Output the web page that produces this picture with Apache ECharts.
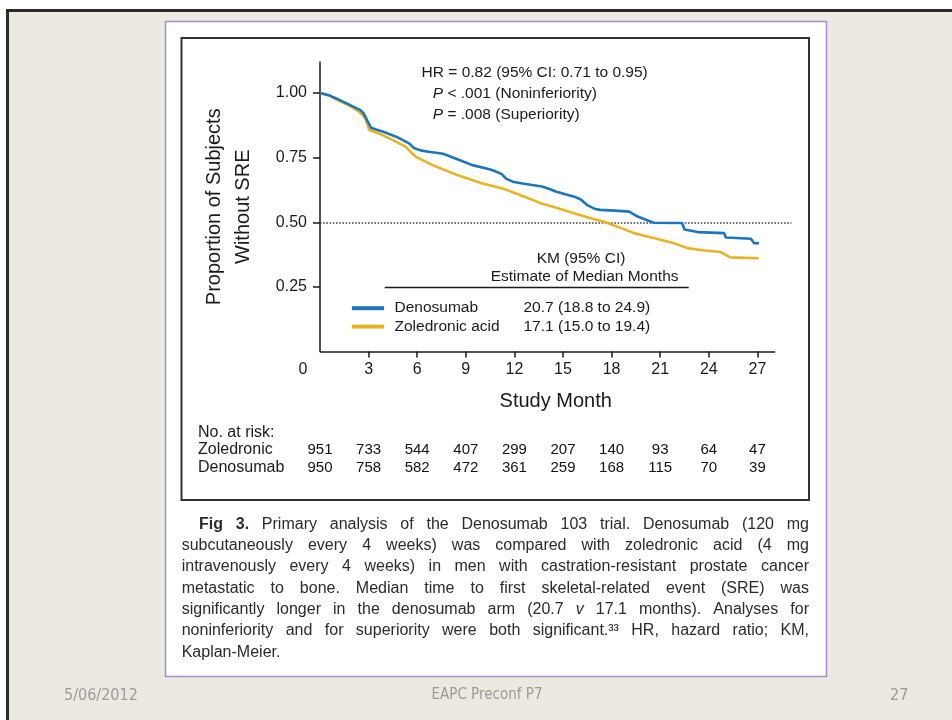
<!DOCTYPE html>
<html><head><meta charset="utf-8">
<script src="https://cdn.jsdelivr.net/npm/echarts@6/dist/echarts.min.js"></script>
<style>html,body{margin:0;padding:0;background:#fff;}#c{width:952px;height:720px;}</style>
</head><body><div id="c"></div>
<script>
// ---------- data ----------
const monthTicks = [0, 3, 6, 9, 12, 15, 18, 21, 24, 27];
const yTicks = [0.25, 0.5, 0.75, 1.0];

const denosumabMonths = [0, 0.6, 1.0, 1.8, 2.5, 2.7, 2.9, 3.15, 3.5, 3.9, 4.7, 5.5, 5.8, 6.2, 6.8, 7.6, 8.6, 9.4, 10.4, 10.7, 11.2, 11.5, 11.9, 12.5, 13.7, 14.2, 14.6, 15.2, 15.7, 16.1, 16.5, 17.0, 17.3, 18.2, 19.1, 19.3, 19.6, 20.2, 20.6, 22.35, 22.5, 23.3, 24.95, 25.05, 26.6, 26.8, 27.1];
const denosumabSurvival = [1.00, 0.99, 0.979, 0.955, 0.934, 0.92, 0.895, 0.866, 0.858, 0.850, 0.831, 0.805, 0.787, 0.778, 0.772, 0.765, 0.741, 0.721, 0.706, 0.700, 0.687, 0.668, 0.657, 0.650, 0.638, 0.628, 0.618, 0.607, 0.599, 0.588, 0.566, 0.551, 0.548, 0.545, 0.541, 0.533, 0.522, 0.508, 0.498, 0.497, 0.472, 0.462, 0.458, 0.441, 0.436, 0.419, 0.419];

const zoledronicMonths = [0, 0.6, 1.0, 1.8, 2.42, 2.7, 2.84, 3.04, 3.5, 3.86, 4.5, 5.3, 5.6, 5.92, 6.95, 8.38, 10.03, 11.26, 12.1, 12.9, 13.62, 14.55, 15.68, 16.6, 17.53, 18.4, 19.38, 20.2, 21.02, 21.9, 22.67, 23.6, 24.72, 25.34, 27.08];
const zoledronicSurvival = [1.00, 0.99, 0.975, 0.952, 0.927, 0.91, 0.895, 0.857, 0.846, 0.837, 0.818, 0.792, 0.772, 0.753, 0.721, 0.685, 0.650, 0.631, 0.611, 0.592, 0.574, 0.557, 0.535, 0.517, 0.502, 0.482, 0.458, 0.445, 0.432, 0.418, 0.400, 0.392, 0.385, 0.364, 0.361];

const referenceLevel = 0.5;
const riskRows = ['Zoledronic', 'Denosumab'];
const zoledronicAtRisk = [951, 733, 544, 407, 299, 207, 140, 93, 64, 47];
const denosumabAtRisk = [950, 758, 582, 472, 361, 259, 168, 115, 70, 39];

const legendNames = ['Denosumab', 'Zoledronic acid'];
const medianTexts = ['20.7 (18.8 to 24.9)', '17.1 (15.0 to 19.4)'];
const kmHeader = ['KM (95% CI)', 'Estimate of Median Months'];
const statLines = ['HR = 0.82 (95% CI: 0.71 to 0.95)', '{i|P} < .001 (Noninferiority)', '{i|P} = .008 (Superiority)'];
const captionLines = [
  '*Fig* *3.* Primary analysis of the Denosumab 103 trial. Denosumab (120 mg',
  'subcutaneously every 4 weeks) was compared with zoledronic acid (4 mg',
  'intravenously every 4 weeks) in men with castration-resistant prostate cancer',
  'metastatic to bone. Median time to first skeletal-related event (SRE) was',
  'significantly longer in the denosumab arm (20.7 _v_ 17.1 months). Analyses for',
  'noninferiority and for superiority were both significant.\u00b3\u00b3 HR, hazard ratio; KM,',
  'Kaplan-Meier.'
];
const footerTexts = ['5/06/2012', 'EAPC Preconf P7', '27'];

// ---------- build ----------
const FAM = '"Liberation Sans", Arial, Helvetica, sans-serif';
const NARROW = '"Liberation Sans Narrow", "DejaVu Sans Condensed", sans-serif';
const INK = '#1a1a1a';
const X_MAX = 29.1, X_AXIS_END = 28.1;

const zip = (a, b) => a.map((v, i) => [v, b[i]]);

function txt(x, y, text, o) {
  o = o || {};
  return {
    type: 'text', x: x, y: y, z: 10, silent: true,
    style: Object.assign({
      text: text, fontSize: 16, fontFamily: FAM, fill: INK,
      align: 'left', verticalAlign: 'middle', textAlign: 'left', textVerticalAlign: 'middle'
    }, o)
  };
}

function captionElements() {
  const els = [];
  const ctx = document.createElement('canvas').getContext('2d');
  const fs = 16, lineH = 21.35, top = 524.3, right = 809;
  ctx.font = fs + 'px ' + FAM;
  const spaceW = ctx.measureText(' ').width;
  captionLines.forEach((line, i) => {
    const toks = line.split(' ').map(t => {
      let w = 'normal', s = 'normal', s2 = t;
      if (/^\*.+\*$/.test(t)) { w = 'bold'; s2 = t.slice(1, -1); }
      else if (/^_.+_$/.test(t)) { s = 'italic'; s2 = t.slice(1, -1); }
      ctx.font = s + ' ' + w + ' ' + fs + 'px ' + FAM;
      return { t: s2, w: w, s: s, width: ctx.measureText(s2).width };
    });
    const x0 = i === 0 ? 199 : 181.7;
    const total = toks.reduce((a, k) => a + k.width, 0);
    const last = i === captionLines.length - 1;
    const gap = last ? spaceW : (right - x0 - total) / (toks.length - 1);
    let x = x0;
    toks.forEach(k => {
      els.push(txt(x, top + i * lineH, k.t, { fontSize: fs, fontWeight: k.w, fontStyle: k.s, fill: '#2b2b2b' }));
      x += k.width + gap;
    });
  });
  return els;
}

const riskData = [];
monthTicks.forEach((m, i) => {
  riskData.push([m, riskRows[0], zoledronicAtRisk[i]]);
  riskData.push([m, riskRows[1], denosumabAtRisk[i]]);
});

const graphics = [
  { type: 'rect', z: -10, silent: true, shape: { x: 7.5, y: 10.5, width: 1000, height: 800 }, style: { fill: '#ECE9E0', stroke: '#2b2b2b', lineWidth: 3 } },
  { type: 'rect', z: -9, silent: true, shape: { x: 165.5, y: 21.5, width: 661, height: 655 }, style: { fill: '#ffffff', stroke: '#A88BC8', lineWidth: 1.5 } },
  { type: 'rect', z: -8, silent: true, shape: { x: 181.5, y: 38, width: 627.5, height: 462 }, style: { fill: 'none', stroke: '#333', lineWidth: 2 } },
  txt(421.6, 72.3, statLines[0], { fontSize: 15.5 }),
  txt(432.8, 93.3, statLines[1], { fontSize: 15.5, rich: { i: { fontStyle: 'italic', fontSize: 15.5, fontFamily: FAM, fill: INK } } }),
  txt(432.8, 114.7, statLines[2], { fontSize: 15.5, rich: { i: { fontStyle: 'italic', fontSize: 15.5, fontFamily: FAM, fill: INK } } }),
  txt(581, 258.3, kmHeader[0], { fontSize: 15.5, align: 'center', textAlign: 'center' }),
  txt(584.6, 276.7, kmHeader[1], { fontSize: 15.5, align: 'center', textAlign: 'center' }),
  { type: 'line', z: 10, silent: true, shape: { x1: 384.7, y1: 287.5, x2: 688.7, y2: 287.5 }, style: { stroke: INK, lineWidth: 1.5 } },
  txt(198, 433, 'No. at risk:', { fontSize: 16 }),
  txt(64, 695.5, footerTexts[0], { fontSize: 16, fontFamily: NARROW, fill: '#9a9a9a' }),
  txt(487, 695.5, footerTexts[1], { fontSize: 15, fontFamily: NARROW, fill: '#9a9a9a', align: 'center', textAlign: 'center' }),
  txt(908.3, 695.5, footerTexts[2], { fontSize: 16, fontFamily: NARROW, fill: '#9a9a9a', align: 'right', textAlign: 'right' })
].concat(captionElements());

const chart = echarts.init(document.getElementById('c'), null, { renderer: 'canvas' });
chart.setOption({
  animation: false,
  backgroundColor: 'transparent',
  textStyle: { fontFamily: FAM },
  graphic: { elements: graphics },
  legend: {
    data: legendNames, orient: 'vertical', left: 347, top: 294, icon: 'rect',
    itemWidth: 32, itemHeight: 4, itemGap: 0, selectedMode: false,
    formatter: name => '{n|' + name + '}{v|' + medianTexts[legendNames.indexOf(name)] + '}',
    textStyle: {
      color: INK, fontSize: 15.5, lineHeight: 18.4,
      rich: {
        n: { width: 129, padding: [0, 0, 0, 5.5], fontSize: 15.5, color: INK, fontFamily: FAM },
        v: { fontSize: 15.5, color: INK, fontFamily: FAM }
      }
    }
  },
  grid: [
    { left: 320, right: 952 - 320 - X_MAX * 16.2, top: 62, height: 289.5 },
    { left: 320, right: 952 - 320 - X_MAX * 16.2, top: 441, height: 36 }
  ],
  xAxis: [
    {
      type: 'value', gridIndex: 0, min: 0, max: X_MAX,
      axisLine: { show: false },
      axisTick: { show: true, customValues: monthTicks.slice(1), length: 6, lineStyle: { color: INK, width: 1.5 } },
      axisLabel: {
        customValues: monthTicks, margin: 10, fontSize: 16, color: INK,
        formatter: v => (v === 0 ? '{z|0}' : String(v)),
        rich: { z: { padding: [0, 34, 0, 0], fontSize: 16, color: INK } }
      },
      splitLine: { show: false },
      name: 'Study Month', nameLocation: 'middle', nameGap: 40,
      nameTextStyle: { fontSize: 20, color: INK }
    },
    { type: 'value', gridIndex: 1, min: 0, max: X_MAX, show: false }
  ],
  yAxis: [
    {
      type: 'value', gridIndex: 0, min: 0, max: 1.12,
      axisLine: { show: true, lineStyle: { color: INK, width: 1.5 } },
      axisTick: { show: true, customValues: yTicks, length: 7, lineStyle: { color: INK, width: 1.5 } },
      axisLabel: { customValues: yTicks, margin: 13, fontSize: 16, color: INK, formatter: v => v.toFixed(2) },
      splitLine: { show: false },
      name: 'Proportion of Subjects\nWithout SRE', nameLocation: 'middle', nameRotate: 90, nameGap: 62,
      nameTextStyle: { fontSize: 20, lineHeight: 29, color: INK }
    },
    {
      type: 'category', gridIndex: 1, data: riskRows, inverse: true,
      axisLine: { show: false }, axisTick: { show: false },
      axisLabel: { interval: 0, hideOverlap: false, align: 'left', margin: 122, fontSize: 16, color: INK }
    }
  ],
  series: [
    {
      name: 'Zoledronic acid', type: 'line', xAxisIndex: 0, yAxisIndex: 0,
      data: zip(zoledronicMonths, zoledronicSurvival), showSymbol: false, z: 2,
      color: '#E8B425', lineStyle: { width: 2.6, color: '#E8B425' },
      markLine: {
        silent: true, symbol: ['none', 'none'], label: { show: false }, z: 1,
        data: [
          [{ coord: [0, referenceLevel], lineStyle: { type: 'dotted', color: '#444', width: 1.6 } }, { coord: [X_MAX, referenceLevel] }],
          [{ coord: [0, 0], lineStyle: { type: 'solid', color: INK, width: 1.5 } }, { coord: [X_AXIS_END, 0] }]
        ]
      }
    },
    {
      name: 'Denosumab', type: 'line', xAxisIndex: 0, yAxisIndex: 0,
      data: zip(denosumabMonths, denosumabSurvival), showSymbol: false, z: 3,
      color: '#1C75BD', lineStyle: { width: 2.6, color: '#1C75BD' }
    },
    {
      name: 'At risk', type: 'scatter', xAxisIndex: 1, yAxisIndex: 1,
      data: riskData, symbolSize: 1, itemStyle: { color: 'rgba(0,0,0,0)' },
      label: { show: true, position: 'inside', fontSize: 15, color: '#111', textBorderWidth: 0, opacity: 1, formatter: p => String(p.value[2]) }
    }
  ]
});
</script>
</body></html>
